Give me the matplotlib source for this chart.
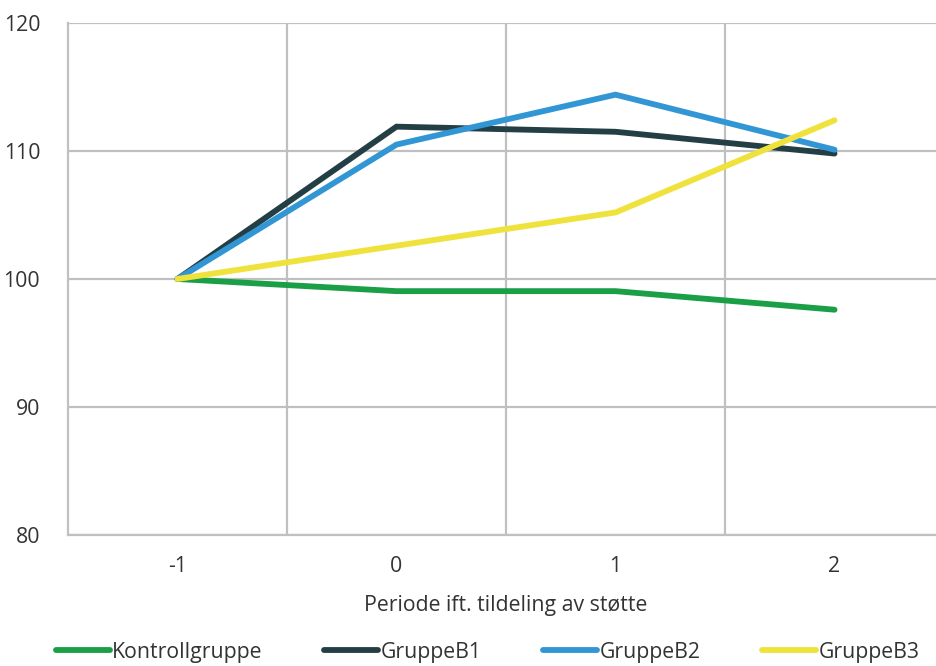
import matplotlib.pyplot as plt

plt.rcParams['font.family'] = ['Open Sans', 'DejaVu Sans']

perioder = [-1, 0, 1, 2]
kontroll = [100, 99.05, 99.05, 97.6]
gruppe_b1 = [100, 111.9, 111.5, 109.8]
gruppe_b2 = [100, 110.5, 114.4, 110.1]
gruppe_b3 = [100, 102.6, 105.2, 112.4]

serier = [
    ("Kontrollgruppe", kontroll, "#1a9e46"),
    ("GruppeB1", gruppe_b1, "#233f45"),
    ("GruppeB2", gruppe_b2, "#3296d4"),
    ("GruppeB3", gruppe_b3, "#f0e23c"),
]

fig = plt.figure(figsize=(9.36, 6.66), dpi=100)
ax = fig.add_axes([0.0726, 0.1967, 0.936, 0.7688])

x = list(range(len(perioder)))
for navn, verdier, farge in serier:
    ax.plot(x, verdier, color=farge, linewidth=4.2, label=navn,
            solid_capstyle='round', solid_joinstyle='miter')

ax.set_xlim(-0.5, len(perioder) - 0.5)
ax.set_ylim(80, 120)
ax.set_yticks([80, 90, 100, 110, 120])
ax.set_xticks(x)
ax.set_xticklabels([str(p) for p in perioder])

grid_col = "#c0c0c0"
for b in [0.5, 1.5, 2.5]:
    ax.axvline(b, color=grid_col, linewidth=1.6, zorder=0)
ax.yaxis.grid(True, color=grid_col, linewidth=1.6)
ax.set_axisbelow(True)

for s in ['top', 'right']:
    ax.spines[s].set_visible(False)
for s in ['left', 'bottom']:
    ax.spines[s].set_color(grid_col)
    ax.spines[s].set_linewidth(1.6)

fs = 15.3
ax.tick_params(length=0, labelsize=fs, colors="#333333", pad=15)
ax.tick_params(axis='y', pad=20)
ax.set_xlabel("Periode ift. tildeling av støtte", fontsize=fs,
              color="#333333", labelpad=13)

fig.legend(loc='center', bbox_to_anchor=(0.521, 0.021), ncol=4,
           frameon=False, fontsize=fs, handlelength=2.55, handletextpad=0.1,
           columnspacing=2.9, labelcolor="#333333")

fig.savefig("out.png", dpi=100)
